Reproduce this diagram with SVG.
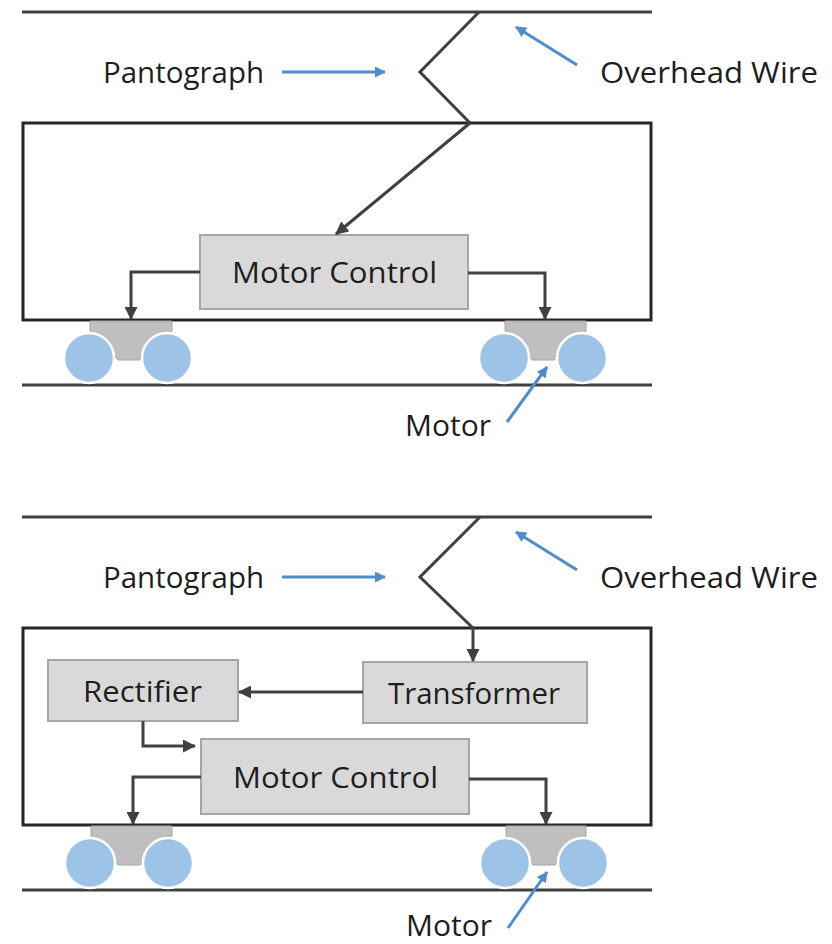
<svg xmlns="http://www.w3.org/2000/svg" width="832" height="944" viewBox="0 0 832 944">
<defs>
<marker id="ad" markerUnits="userSpaceOnUse" markerWidth="13" markerHeight="13" refX="12" refY="6.5" orient="auto"><path d="M0,0 L13,6.5 L0,13 z" fill="#404040"/></marker>
<marker id="ab" markerUnits="userSpaceOnUse" markerWidth="11" markerHeight="11" refX="10" refY="5.5" orient="auto"><path d="M0,0 L11,5.5 L0,11 z" fill="#4f8ccb"/></marker>
<style>
.wire{stroke:#404040;stroke-width:3;fill:none}
.car{stroke:#262626;stroke-width:3;fill:#fff}
.conn{stroke:#404040;stroke-width:3;fill:none;marker-end:url(#ad)}
.blue{stroke:#4f8ccb;stroke-width:3;fill:none;marker-end:url(#ab)}
.box{fill:#d9d9d9;stroke:#a6a6a6;stroke-width:2}
.bogie{fill:#bfbfbf;stroke:#a6a6a6;stroke-width:1}
.wheel{fill:#9dc3e6;stroke:#fff;stroke-width:2.5}
.t{font-family:"Open Sans","Liberation Sans",sans-serif;font-size:29px;fill:#1e1e1e}
</style>
</defs>

<g id="panel1">
<g id="overhead-wire-1"><line class="wire" x1="22" y1="12" x2="652" y2="12"/></g>
<g id="car-body-1"><rect class="car" x="23" y="123" width="628" height="197"/></g>
<g id="pantograph-1"><polyline class="wire" points="479,12 420,72 470,123"/></g>
<g id="rail-1"><line class="wire" x1="22" y1="385" x2="652" y2="385"/></g>
<g id="motor-control-1"><rect class="box" x="200" y="235" width="268" height="74"/><text class="t" x="232" y="283" textLength="205" lengthAdjust="spacingAndGlyphs">Motor Control</text></g>
<g id="bogie-left-1">
<polygon class="bogie" points="90,321 172,321 172,331 140,360 118,360 90,331"/>
<circle class="wheel" cx="89" cy="358" r="25"/><circle class="wheel" cx="167" cy="358" r="25"/>
</g>
<g id="bogie-right-1">
<polygon class="bogie" points="505,321 586,321 586,331 554,360 532,360 505,331"/>
<circle class="wheel" cx="504" cy="358" r="25"/><circle class="wheel" cx="582" cy="358" r="25"/>
</g>
<g id="labels-1">
<text class="t" x="103" y="83" textLength="161" lengthAdjust="spacingAndGlyphs">Pantograph</text>
<text class="t" x="600" y="83" textLength="218" lengthAdjust="spacingAndGlyphs">Overhead Wire</text>
<text class="t" x="405" y="436" textLength="86" lengthAdjust="spacingAndGlyphs">Motor</text>
</g>
<g id="connectors-1">
<line class="conn" x1="470" y1="123" x2="336" y2="234"/>
<polyline class="conn" points="200,272 131,272 131,319"/>
<polyline class="conn" points="468,273 545,273 545,319"/>
<line class="blue" x1="282" y1="72" x2="385" y2="72"/>
<line class="blue" x1="577" y1="65" x2="516" y2="27"/>
<line class="blue" x1="507" y1="422" x2="547" y2="367"/>
</g>
</g>

<g id="panel2">
<g id="overhead-wire-2"><line class="wire" x1="22" y1="517" x2="652" y2="517"/></g>
<g id="car-body-2"><rect class="car" x="23" y="628" width="628" height="197"/></g>
<g id="pantograph-2"><polyline class="wire" points="480,517 420,577 473,628"/></g>
<g id="rail-2"><line class="wire" x1="22" y1="890" x2="652" y2="890"/></g>
<g id="rectifier"><rect class="box" x="48" y="660" width="190" height="61"/><text class="t" x="83" y="702" textLength="119" lengthAdjust="spacingAndGlyphs">Rectifier</text></g>
<g id="transformer"><rect class="box" x="363" y="662" width="224" height="61"/><text class="t" x="388" y="704" textLength="172" lengthAdjust="spacingAndGlyphs">Transformer</text></g>
<g id="motor-control-2"><rect class="box" x="201" y="739" width="268" height="75"/><text class="t" x="233" y="788" textLength="205" lengthAdjust="spacingAndGlyphs">Motor Control</text></g>
<g id="bogie-left-2">
<polygon class="bogie" points="91,826 172,826 172,836 140,865 118,865 91,836"/>
<circle class="wheel" cx="90" cy="863" r="25"/><circle class="wheel" cx="168" cy="863" r="25"/>
</g>
<g id="bogie-right-2">
<polygon class="bogie" points="506,826 586,826 586,836 555,865 533,865 506,836"/>
<circle class="wheel" cx="505" cy="863" r="25"/><circle class="wheel" cx="583" cy="863" r="25"/>
</g>
<g id="labels-2">
<text class="t" x="103" y="588" textLength="161" lengthAdjust="spacingAndGlyphs">Pantograph</text>
<text class="t" x="600" y="588" textLength="218" lengthAdjust="spacingAndGlyphs">Overhead Wire</text>
<text class="t" x="406" y="936" textLength="86" lengthAdjust="spacingAndGlyphs">Motor</text>
</g>
<g id="connectors-2">
<line class="conn" x1="473" y1="628" x2="473" y2="661"/>
<line class="conn" x1="363" y1="692" x2="239" y2="692"/>
<polyline class="conn" points="143,721 143,746 195,746"/>
<polyline class="conn" points="201,777 133,777 133,824"/>
<polyline class="conn" points="469,779 546,779 546,824"/>
<line class="blue" x1="282" y1="577" x2="385" y2="577"/>
<line class="blue" x1="577" y1="570" x2="516" y2="532"/>
<line class="blue" x1="508" y1="928" x2="547" y2="872"/>
</g>
</g>
</svg>
